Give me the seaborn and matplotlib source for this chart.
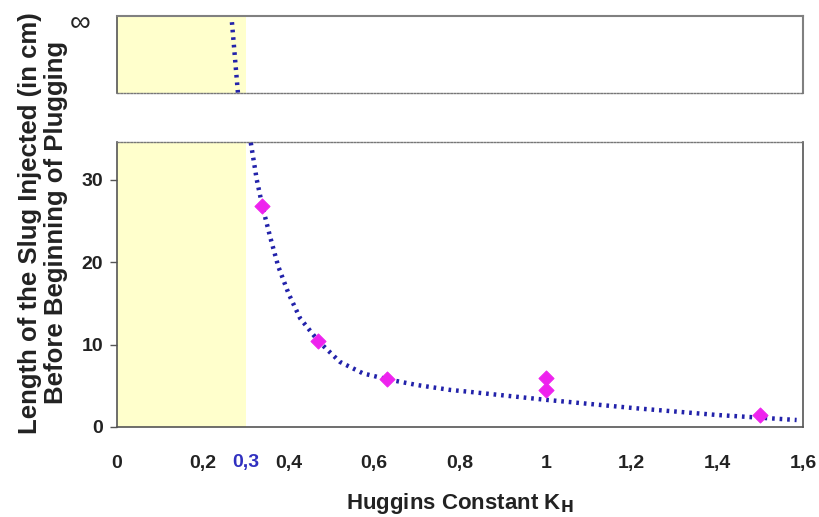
import matplotlib
matplotlib.use("Agg")
import matplotlib.pyplot as plt
import seaborn as sns
import pandas as pd

# ---- data ----
kh_points = [0.338, 0.469, 0.630, 1.0, 1.0, 1.5]
slug_points = [26.8, 10.4, 5.8, 6.0, 4.5, 1.45]

curve_x = [0.312, 0.326, 0.339, 0.357, 0.376, 0.400, 0.427, 0.470, 0.520,
           0.574, 0.630, 0.699, 0.777, 0.816, 1.0, 1.204, 1.399, 1.585]
curve_y = [34.5, 30.0, 26.8, 23.1, 19.5, 16.2, 13.2, 10.4, 7.9,
           6.5, 5.8, 5.1, 4.5, 4.3, 3.3, 2.3, 1.46, 0.85]

# curve segment in the "infinity" panel (arbitrary 0..1 scale)
inf_curve_x = [0.268, 0.282]
inf_curve_y = [0.92, 0.0]

x_ticks = [0, 0.2, 0.4, 0.6, 0.8, 1.0, 1.2, 1.4, 1.6]
x_tick_labels = ["0", "0,2", "0,4", "0,6", "0,8", "1", "1,2", "1,4", "1,6"]
y_ticks = [0, 10, 20, 30]
threshold_kh = 0.3
threshold_label = "0,3"

sns.set_theme(style="white")
plt.rcParams["font.family"] = ["Liberation Sans", "DejaVu Sans"]

fig = plt.figure(figsize=(8.19, 5.17), dpi=100)
ax = fig.add_axes([0.1429, 0.1741, 0.8376, 0.5513])
ax_top = fig.add_axes([0.1429, 0.820, 0.8376, 0.149])

curve_color = "#2222AA"
point_color = "#EE22EE"
shade_color = "#FFFFCC"
spine_gray = "#808080"
dot_style = (0, (1.2, 1.2))

# ---- bottom panel ----
ax.axvspan(0, threshold_kh, color=shade_color, zorder=0, lw=0)
df_curve = pd.DataFrame({"x": curve_x, "y": curve_y})
sns.lineplot(data=df_curve, x="x", y="y", ax=ax, sort=False, estimator=None,
             color=curve_color, lw=3.2, linestyle=(0, (0.6, 1.1)), zorder=3)
df_pts = pd.DataFrame({"x": kh_points, "y": slug_points})
sns.scatterplot(data=df_pts, x="x", y="y", ax=ax, marker="D", s=60,
                color=point_color, edgecolor=point_color, zorder=4)
ax.set_xlim(0, 1.6)
ax.set_ylim(0, 34.6)
ax.set_xticks(x_ticks)
ax.set_xticklabels(x_tick_labels)
ax.set_yticks(y_ticks)
ax.tick_params(axis="x", direction="in", length=5, width=1, color="#555555",
               pad=20, labelsize=14)
ax.tick_params(axis="y", direction="out", length=5, width=1, color="#555555",
               pad=5, labelsize=14, left=True)
for lbl in ax.get_xticklabels() + ax.get_yticklabels():
    lbl.set_fontweight("bold")
    lbl.set_color("#222222")
ax.text(threshold_kh, -0.125, threshold_label, transform=ax.get_xaxis_transform(),
        ha="center", va="center", color="#3030C0", fontsize=14, fontweight="bold")
for side in ["left", "bottom", "right"]:
    ax.spines[side].set_color("#555555")
    ax.spines[side].set_linewidth(1.2)
ax.spines["top"].set_linewidth(1.0)
ax.spines["top"].set_linestyle(dot_style)
ax.spines["top"].set_color("#777777")
ax.set_xlabel(r"Huggins Constant K$_\mathbf{H}$", fontsize=16, fontweight="bold",
              labelpad=14, color="#222222")
ax.set_ylabel("")

# ---- top (infinity) panel ----
ax_top.axvspan(0, threshold_kh, color=shade_color, zorder=0, lw=0)
df_inf = pd.DataFrame({"x": inf_curve_x, "y": inf_curve_y})
sns.lineplot(data=df_inf, x="x", y="y", ax=ax_top, sort=False, estimator=None,
             color=curve_color, lw=3.2, linestyle=(0, (0.6, 1.1)), zorder=3)
ax_top.set_xlim(0, 1.6)
ax_top.set_ylim(0, 1)
ax_top.set_xticks([])
ax_top.set_yticks([0.95])
ax_top.set_yticklabels(["∞"])
ax_top.tick_params(axis="y", length=0, pad=19, labelsize=21)
ax_top.set_xlabel("")
ax_top.set_ylabel("")
ax_top.spines["left"].set_color("#555555")
ax_top.spines["left"].set_linewidth(1.2)
for side in ["top", "right"]:
    ax_top.spines[side].set_color(spine_gray)
    ax_top.spines[side].set_linewidth(1.5)
ax_top.spines["bottom"].set_linewidth(1.0)
ax_top.spines["bottom"].set_linestyle(dot_style)
ax_top.spines["bottom"].set_color("#777777")

# shared y label
fig.text(0.052, 0.569, "Length of the Slug Injected (in cm)\nBefore Beginning of Plugging",
         rotation=90, ha="center", va="center", fontsize=18.5, fontweight="bold",
         color="#222222", linespacing=1.1)

fig.savefig("out.png", dpi=100)
